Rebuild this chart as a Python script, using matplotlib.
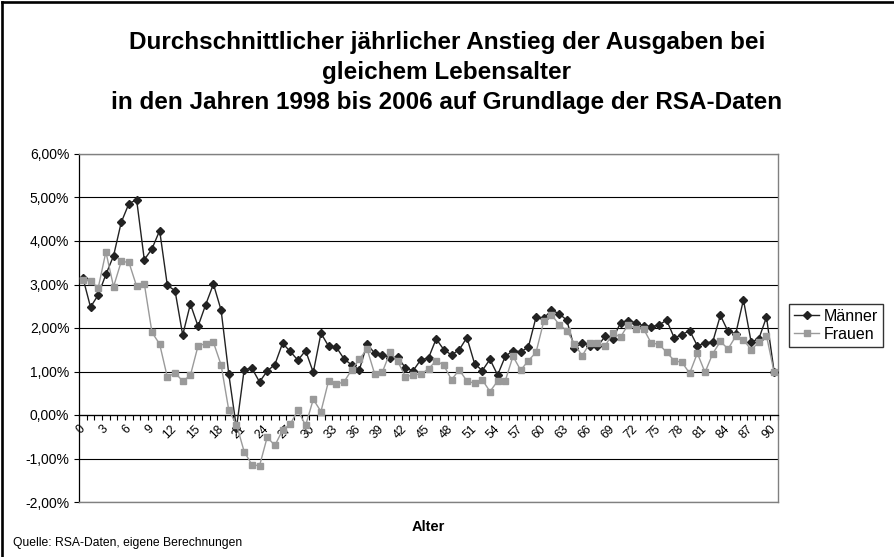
import matplotlib
matplotlib.use("Agg")
import matplotlib.pyplot as plt
from matplotlib.ticker import FixedLocator, FuncFormatter, NullFormatter
from matplotlib.lines import Line2D

plt.rcParams['font.family'] = ['Liberation Sans', 'DejaVu Sans']

ages = list(range(0, 91))
maenner = [3.16, 2.48, 2.76, 3.23, 3.66, 4.43, 4.86, 4.95, 3.57, 3.82,
           4.24, 2.98, 2.86, 1.84, 2.55, 2.04, 2.54, 3.01, 2.41, 0.94,
           -0.30, 1.04, 1.08, 0.76, 1.01, 1.16, 1.65, 1.46, 1.26, 1.48,
           0.98, 1.88, 1.58, 1.56, 1.29, 1.15, 1.04, 1.63, 1.42, 1.38,
           1.31, 1.33, 1.08, 1.02, 1.27, 1.31, 1.75, 1.50, 1.38, 1.50,
           1.78, 1.18, 1.02, 1.28, 0.92, 1.35, 1.48, 1.45, 1.56, 2.25,
           2.22, 2.41, 2.33, 2.18, 1.54, 1.65, 1.59, 1.58, 1.81, 1.75,
           2.12, 2.17, 2.12, 2.05, 2.03, 2.07, 2.18, 1.77, 1.85, 1.94,
           1.59, 1.66, 1.68, 2.29, 1.92, 1.87, 2.65, 1.68, 1.75, 2.25,
           0.99]
frauen = [3.10, 3.08, 2.92, 3.75, 2.95, 3.53, 3.51, 2.96, 3.02, 1.90,
          1.63, 0.87, 0.97, 0.78, 0.91, 1.59, 1.64, 1.67, 1.15, 0.11,
          -0.22, -0.84, -1.14, -1.17, -0.51, -0.70, -0.35, -0.21, 0.11, -0.24,
          0.36, 0.08, 0.79, 0.71, 0.76, 1.04, 1.28, 1.52, 0.94, 0.99,
          1.44, 1.23, 0.88, 0.92, 0.94, 1.06, 1.25, 1.14, 0.81, 1.04,
          0.78, 0.73, 0.81, 0.54, 0.78, 0.79, 1.35, 1.03, 1.25, 1.44,
          2.15, 2.31, 2.08, 1.94, 1.64, 1.36, 1.65, 1.65, 1.59, 1.88,
          1.79, 2.08, 1.98, 1.98, 1.65, 1.63, 1.44, 1.25, 1.21, 0.96,
          1.42, 0.98, 1.41, 1.69, 1.52, 1.81, 1.73, 1.50, 1.67, 1.82,
          0.98]
x_labels = [str(a) for a in range(0, 91, 3)]
y_ticks = [-2, -1, 0, 1, 2, 3, 4, 5, 6]

title_lines = ["Durchschnittlicher jährlicher Anstieg der Ausgaben bei",
               "gleichem Lebensalter",
               "in den Jahren 1998 bis 2006 auf Grundlage der RSA-Daten"]

W, H = 894, 557
fig = plt.figure(figsize=(W / 100, H / 100), dpi=100)
fig.patch.set_facecolor('white')
ax = fig.add_axes([79 / W, 1 - 502 / H, (778 - 79) / W, (502 - 154) / H])

l1, = ax.plot(ages, maenner, color='#222222', lw=1.0, marker='D', markersize=4.4,
              markerfacecolor='#222222', markeredgecolor='#222222', label='Männer', zorder=3)
l2, = ax.plot(ages, frauen, color='#9a9a9a', lw=1.0, marker='s', markersize=5.0,
              markerfacecolor='#9a9a9a', markeredgecolor='#9a9a9a', label='Frauen', zorder=4)

ax.set_xlim(-0.5, 90.5)
ax.set_ylim(-2, 6)
ax.set_yticks(y_ticks)
ax.yaxis.set_major_formatter(FuncFormatter(lambda v, p: f"{v:.2f}%".replace('.', ',')))
ax.yaxis.grid(True, color='black', lw=0.8, zorder=1)
ax.set_axisbelow(True)
ax.tick_params(axis='y', direction='out', length=3.5, width=0.8, pad=3.5, labelsize=10, color='black')

# category axis at 0 %
ax.spines['bottom'].set_position(('data', 0))
ax.spines['bottom'].set_color('black')
ax.spines['bottom'].set_linewidth(0.9)
ax.spines['left'].set_color('black')
ax.spines['left'].set_linewidth(0.9)
for s in ['top', 'right']:
    ax.spines[s].set_color('#808080')
    ax.spines[s].set_linewidth(1.0)
ax.axhline(-2, color='#808080', lw=1.0, zorder=2.6, clip_on=False)

ax.xaxis.set_major_locator(FixedLocator([k - 0.5 for k in range(0, 92)]))
ax.xaxis.set_major_formatter(NullFormatter())
ax.xaxis.set_minor_locator(FixedLocator(list(range(0, 91, 3))))
ax.set_xticklabels(x_labels, minor=True)
ax.tick_params(axis='x', which='major', direction='out', length=3.5, width=0.8, color='black')
ax.tick_params(axis='x', which='minor', length=0, pad=9, labelsize=8.8)
for lab in ax.get_xticklabels(minor=True):
    lab.set_rotation(45)
    lab.set_ha('right')
    lab.set_va('center')
    lab.set_rotation_mode('anchor')

# title
for txt, yb in zip(title_lines, [49.5, 79.5, 109.5]):
    fig.text(0.5, 1 - yb / H, txt, ha='center', va='baseline', fontsize=17.5,
             fontweight='bold', color='black')

fig.text(428.5 / W, 1 - 527 / H, 'Alter', ha='center', va='center', fontsize=10.5,
         fontweight='bold')
fig.text(13 / W, 1 - 543 / H, 'Quelle: RSA-Daten, eigene Berechnungen', ha='left',
         va='center', fontsize=8.7)

leg = fig.legend(handles=[l1, l2], loc='upper left', bbox_to_anchor=(789 / W, 1 - 304 / H),
                 frameon=True, fancybox=False, fontsize=11.5, handlelength=1.6,
                 handletextpad=0.3, borderpad=0.3, labelspacing=0.2, borderaxespad=0)
leg.get_frame().set_edgecolor('black')
leg.get_frame().set_linewidth(1.0)

# chart-area border (left and top visible)
fig.add_artist(Line2D([1.5 / W, 1.5 / W], [0, 1 - 1.5 / H], transform=fig.transFigure,
                      color='black', lw=1.9))
fig.add_artist(Line2D([1.5 / W, 1], [1 - 1.5 / H, 1 - 1.5 / H], transform=fig.transFigure,
                      color='black', lw=1.9))

fig.savefig('out.png', dpi=100)
